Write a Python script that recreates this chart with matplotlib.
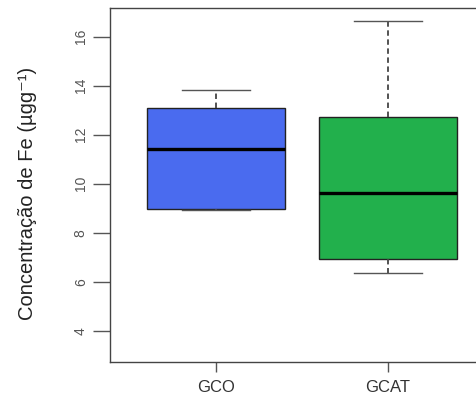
import matplotlib
matplotlib.use('Agg')
import matplotlib.pyplot as plt

# Concentração de Fe por grupo (resumo dos boxplots)
grupos = ['GCO', 'GCAT']
q1 = [8.95, 6.94]
mediana = [11.40, 9.61]
q3 = [13.10, 12.73]
whis_min = [8.92, 6.37]
whis_max = [13.82, 16.65]
cores = ['#4A6BEF', '#22B04C']
yticks = [4, 6, 8, 10, 12, 14, 16]

stats = []
for i in range(len(grupos)):
    stats.append(dict(label=grupos[i], q1=q1[i], med=mediana[i], q3=q3[i],
                      whislo=whis_min[i], whishi=whis_max[i], fliers=[]))

plt.rcParams['font.family'] = ['Liberation Sans', 'DejaVu Sans']

fig = plt.figure(figsize=(4.76, 3.94), dpi=100)
ax = fig.add_axes([0.2311, 0.0812, 0.8067, 0.8985])

bp = ax.bxp(stats, positions=[1, 2], widths=0.8, patch_artist=True,
            showfliers=False,
            boxprops=dict(edgecolor='#222222', linewidth=1.0),
            medianprops=dict(color='black', linewidth=2.4),
            whiskerprops=dict(color='#444444', linewidth=1.3, linestyle=(0, (3, 2))),
            capprops=dict(color='#555555', linewidth=1.0))
for patch, c in zip(bp['boxes'], cores):
    patch.set_facecolor(c)
# bigodes com metade da largura da caixa
for cap in bp['caps']:
    x0, x1 = cap.get_xdata()
    mid = (x0 + x1) / 2
    cap.set_xdata([mid - 0.2, mid + 0.2])

ax.set_xlim(0.384, 2.616)
ax.set_ylim(2.72, 17.17)
ax.set_yticks(yticks)
ax.set_yticklabels([str(t) for t in yticks], rotation=90, va='center',
                   fontsize=10, color='#555555')
ax.set_xticks([1, 2])
ax.set_xticklabels(grupos, fontsize=12, color='#333333')
ax.tick_params(axis='y', length=12, width=1, color='#555555', pad=4)
ax.tick_params(axis='x', length=7, width=1, color='#555555', pad=6)
for s in ax.spines.values():
    s.set_color('#444444')
    s.set_linewidth(1.0)

fig.text(0.058, 0.51, 'Concentração de Fe (µgg⁻¹)', rotation=90,
         ha='center', va='center', fontsize=14.5, color='#222222')

fig.savefig('out.png', dpi=100)
